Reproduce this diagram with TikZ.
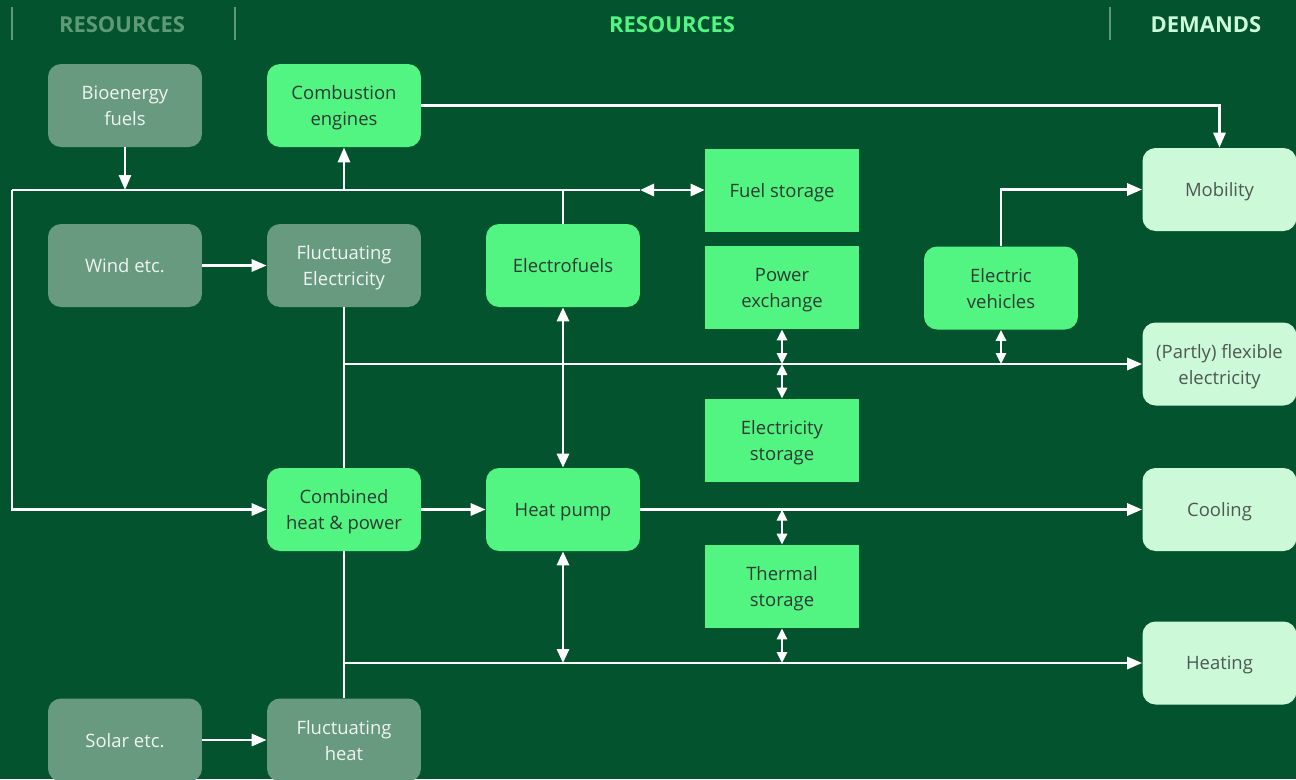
\documentclass[tikz,border=0pt]{standalone}
\usepackage{fontspec}
\setmainfont{Open Sans}
\usetikzlibrary{arrows.meta}
\definecolor{bggreen}{HTML}{03542E}
\definecolor{brightgreen}{HTML}{52F582}
\definecolor{mutedgreen}{HTML}{679A7F}
\definecolor{palegreen}{HTML}{CCFAD9}
\definecolor{darktext}{HTML}{2E3B33}
\definecolor{headgray}{HTML}{5F9A77}

\begin{document}
\begin{tikzpicture}
[
x=0.02cm, y=-0.02cm,
box/.style={minimum width=3.08cm, minimum height=1.66cm, align=center, inner sep=0pt,
            text depth=-1pt, font=\fontsize{10.5}{14.8}\selectfont},
resource/.style={box, rounded corners=0.26cm, fill=mutedgreen, text=white!90!mutedgreen},
converter/.style={box, rounded corners=0.26cm, fill=brightgreen, text=darktext},
storage/.style={box, fill=brightgreen, text=darktext},
demand/.style={box, rounded corners=0.26cm, fill=palegreen, text=darktext!85!white},
heading/.style={font=\fontsize{12.5}{15}\selectfont\bfseries},
divider/.style={draw=headgray, line width=0.03cm},
wire/.style={draw=white, line width=0.058cm},
flow/.style={wire, -{Triangle[length=0.3cm,width=0.24cm]}},
twoway/.style={wire, {Triangle[length=0.28cm,width=0.24cm]}-{Triangle[length=0.28cm,width=0.24cm]}},
swap/.style={wire, {Triangle[length=0.22cm,width=0.2cm]}-{Triangle[length=0.22cm,width=0.2cm]}},
]

\useasboundingbox (0,0) rectangle (1296,779);
\clip (0,0) rectangle (1296,779);
\fill[bggreen] (0,0) rectangle (1296,779);

%Headings
\node[heading, text=headgray] (reshead) at (122,25) {RESOURCES};
\node[heading, text=brightgreen] (convhead) at (672,25) {RESOURCES};
\node[heading, text=palegreen] (demhead) at (1206,25) {DEMANDS};
\draw[divider] (12,7) -- (12,40);
\draw[divider] (235,7) -- (235,40);
\draw[divider] (1110,7) -- (1110,40);

%Place the nodes
\node[resource] (bio) at (125,105.5) {Bioenergy\\fuels};
\node[converter] (comb) at (344,105.5) {Combustion\\engines};
\node[resource] (wind) at (125,265.5) {Wind etc.};
\node[resource] (fluctel) at (344,265.5) {Fluctuating\\Electricity};
\node[converter] (efuel) at (563,265.5) {Electrofuels};
\node[storage] (fuelst) at (782,190) {Fuel storage};
\node[storage] (pwrex) at (782,287.5) {Power\\exchange};
\node[storage] (elst) at (782,440.5) {Electricity\\storage};
\node[storage] (thst) at (782,586.5) {Thermal\\storage};
\node[converter] (ev) at (1001,288) {Electric\\vehicles};
\node[converter] (chp) at (344,509.5) {Combined\\heat \& power};
\node[converter] (hp) at (563,509.5) {Heat pump};
\node[resource] (solar) at (125,740) {Solar etc.};
\node[resource] (fluctht) at (344,740) {Fluctuating\\heat};
\node[demand] (mob) at (1219.5,189.5) {Mobility};
\node[demand] (flex) at (1219.5,364) {(Partly) flexible\\electricity};
\node[demand] (cool) at (1219.5,509.5) {Cooling};
\node[demand] (heat) at (1219.5,663) {Heating};

\coordinate (ltop) at (12,190);
\coordinate (fback) at (640,190);
\coordinate (elbus) at (344,364);
\coordinate (htbus) at (344,663);

%Draw the connections
\draw[flow] (bio) -- (bio |- ltop);
\draw[wire] (ltop) -- (fback);
\draw[twoway] (fback) -- (fuelst);
\draw[flow] (ltop) |- (chp);
\draw[flow] (comb |- ltop) -- (comb);
\draw[wire] (efuel) -- (efuel |- ltop);
\draw[flow] (comb) -| (mob);
\draw[flow] (wind) -- (fluctel);
\draw[wire] (fluctel) -- (chp);
\draw[wire] (chp) -- (fluctht);
\draw[flow] (solar) -- (fluctht);
\draw[flow] (elbus) -- (flex);
\draw[flow] (htbus) -- (heat);
\draw[flow] (chp) -- (hp);
\draw[flow] (hp) -- (cool);
\draw[twoway] (efuel) -- (hp);
\draw[twoway] (hp) -- (hp |- htbus);
\draw[flow] (ev) |- (mob);
\draw[swap] (ev) -- (ev |- elbus);
\draw[swap] (pwrex) -- (pwrex |- elbus);
\draw[swap] (pwrex |- elbus) -- (elst);
\draw[swap] (thst |- cool) -- (thst);
\draw[swap] (thst) -- (thst |- heat);
\end{tikzpicture}
\end{document}
